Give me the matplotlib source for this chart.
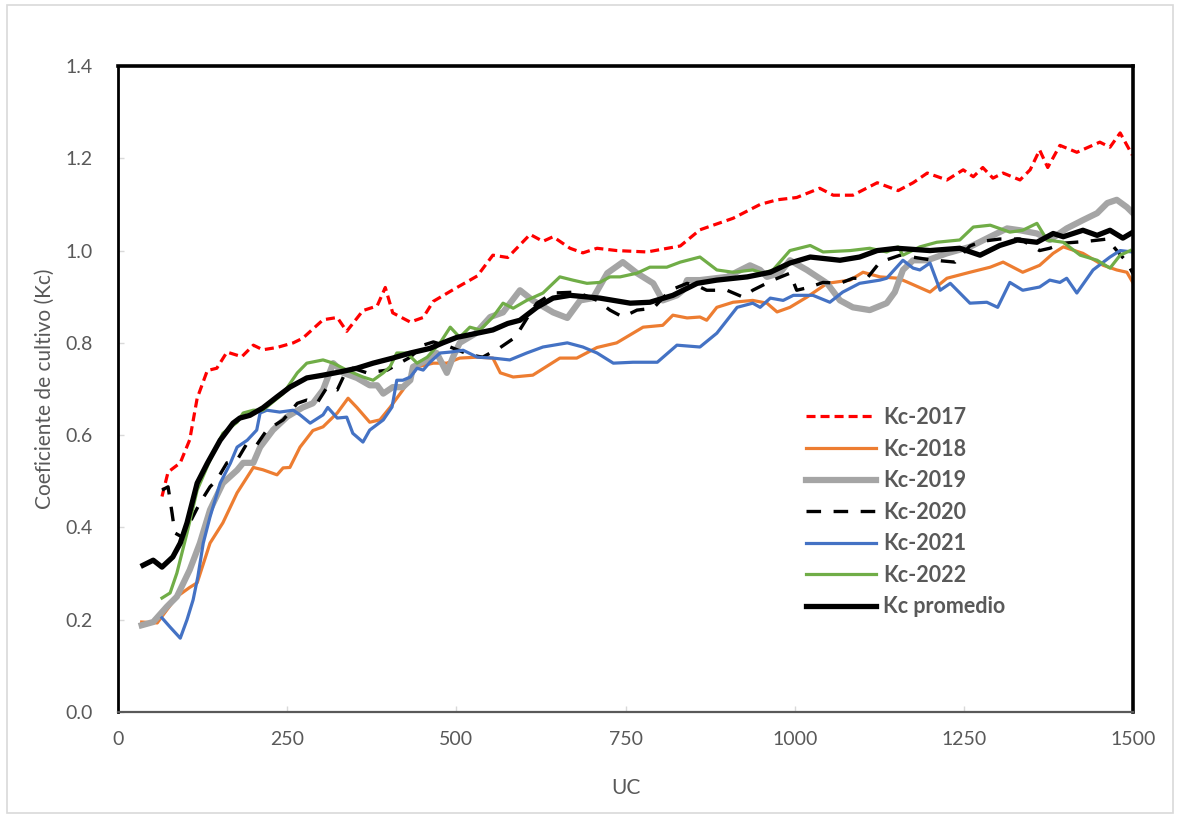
import matplotlib
matplotlib.use("Agg")
import matplotlib.pyplot as plt
from matplotlib.patches import Rectangle

#-------------------------------------
# Data (UC vs Kc)
uc_2017 = [65, 74, 92, 106, 117, 132, 146, 161, 183, 200, 214, 235, 259, 273, 303, 324, 338, 362, 383, 395,
           406, 432, 451, 466, 495, 531, 554, 576, 609, 628, 643, 668, 687, 708, 737, 782, 831, 860, 909, 949,
           974, 1003, 1037, 1057, 1086, 1122, 1153, 1175, 1196, 1225, 1249, 1264, 1278, 1293, 1308, 1333, 1348,
           1362, 1374, 1392, 1417, 1451, 1466, 1481, 1499]
kc_2017 = [0.467, 0.52, 0.54, 0.59, 0.68, 0.74, 0.745, 0.78, 0.77, 0.795, 0.785, 0.79, 0.80, 0.81, 0.85, 0.855,
           0.825, 0.87, 0.88, 0.92, 0.865, 0.845, 0.855, 0.89, 0.915, 0.945, 0.99, 0.985, 1.035, 1.02, 1.03,
           1.005, 0.995, 1.005, 1.0, 0.997, 1.01, 1.045, 1.07, 1.10, 1.11, 1.115, 1.135, 1.12, 1.12, 1.147,
           1.13, 1.147, 1.168, 1.153, 1.175, 1.16, 1.18, 1.157, 1.168, 1.153, 1.175, 1.218, 1.18, 1.228, 1.213,
           1.235, 1.224, 1.255, 1.207]

uc_2018 = [35, 58, 69, 87, 106, 117, 136, 155, 176, 200, 214, 235, 244, 254, 269, 288, 303, 324, 340, 353,
           372, 387, 402, 421, 442, 466, 486, 505, 531, 554, 565, 584, 613, 653, 678, 708, 737, 776, 805, 820,
           841, 860, 870, 885, 909, 938, 959, 974, 993, 1018, 1048, 1082, 1101, 1126, 1153, 1166, 1200, 1225,
           1259, 1289, 1308, 1337, 1362, 1382, 1397, 1426, 1456, 1476, 1491, 1500]
kc_2018 = [0.195, 0.193, 0.215, 0.25, 0.27, 0.28, 0.366, 0.41, 0.475, 0.53, 0.525, 0.514, 0.529, 0.53, 0.574,
           0.61, 0.618, 0.648, 0.68, 0.66, 0.628, 0.633, 0.66, 0.698, 0.748, 0.756, 0.756, 0.767, 0.769, 0.767,
           0.735, 0.726, 0.73, 0.767, 0.767, 0.79, 0.80, 0.834, 0.838, 0.86, 0.854, 0.856, 0.849, 0.877, 0.888,
           0.892, 0.886, 0.867, 0.877, 0.899, 0.929, 0.936, 0.953, 0.943, 0.94, 0.932, 0.91, 0.94, 0.953,
           0.964, 0.975, 0.953, 0.968, 0.994, 1.008, 0.994, 0.968, 0.958, 0.953, 0.93]

uc_2019 = [35, 52, 72, 87, 106, 121, 136, 155, 176, 185, 200, 210, 229, 250, 273, 288, 303, 318, 333, 353,
           372, 383, 392, 406, 421, 432, 436, 457, 471, 486, 495, 505, 528, 550, 569, 594, 613, 643, 664, 683,
           702, 723, 746, 767, 791, 805, 826, 835, 841, 860, 900, 934, 949, 959, 978, 993, 1018, 1048, 1067,
           1086, 1111, 1136, 1148, 1160, 1175, 1196, 1225, 1259, 1289, 1314, 1333, 1358, 1377, 1402, 1426,
           1447, 1462, 1476, 1491, 1500]
kc_2019 = [0.188, 0.195, 0.228, 0.25, 0.308, 0.366, 0.438, 0.496, 0.524, 0.54, 0.54, 0.574, 0.611, 0.64, 0.66,
           0.669, 0.698, 0.756, 0.735, 0.724, 0.708, 0.708, 0.69, 0.704, 0.704, 0.719, 0.748, 0.763, 0.778,
           0.735, 0.769, 0.80, 0.82, 0.856, 0.866, 0.914, 0.892, 0.866, 0.854, 0.892, 0.897, 0.951, 0.975,
           0.951, 0.929, 0.892, 0.903, 0.914, 0.936, 0.936, 0.943, 0.968, 0.958, 0.943, 0.951, 0.979, 0.958,
           0.929, 0.892, 0.877, 0.871, 0.886, 0.91, 0.958, 0.979, 0.979, 0.994, 1.008, 1.03, 1.048, 1.044,
           1.037, 1.023, 1.048, 1.066, 1.081, 1.103, 1.11, 1.094, 1.081]

uc_2020 = [65, 74, 80, 84, 95, 106, 121, 136, 146, 161, 176, 191, 205, 220, 244, 265, 279, 294, 309, 324,
           333, 347, 368, 398, 432, 451, 466, 491, 520, 539, 565, 587, 609, 619, 643, 678, 708, 727, 746, 767,
           791, 816, 841, 860, 870, 900, 924, 938, 968, 993, 1003, 1023, 1042, 1067, 1086, 1107, 1126, 1156,
           1200, 1237, 1259, 1277, 1303, 1333, 1362, 1377, 1397, 1432, 1462, 1476, 1491, 1500]
kc_2020 = [0.481, 0.488, 0.43, 0.388, 0.379, 0.41, 0.453, 0.488, 0.503, 0.54, 0.546, 0.583, 0.579, 0.611,
           0.633, 0.669, 0.676, 0.669, 0.704, 0.698, 0.726, 0.745, 0.735, 0.741, 0.769, 0.795, 0.802, 0.791,
           0.774, 0.769, 0.79, 0.812, 0.864, 0.886, 0.908, 0.91, 0.892, 0.871, 0.856, 0.871, 0.875, 0.914,
           0.929, 0.921, 0.914, 0.914, 0.899, 0.914, 0.936, 0.951, 0.914, 0.921, 0.931, 0.929, 0.94, 0.94,
           0.975, 0.99, 0.98, 0.975, 1.01, 1.02, 1.025, 1.025, 1.0, 1.005, 1.016, 1.02, 1.025, 1.0, 0.975, 0.95]

uc_2021 = [65, 77, 92, 102, 111, 118, 126, 136, 151, 166, 176, 191, 205, 210, 220, 239, 259, 269, 284, 303,
           310, 324, 338, 347, 362, 372, 392, 405, 412, 421, 432, 442, 451, 461, 476, 491, 510, 531, 554, 579,
           604, 628, 664, 687, 708, 732, 761, 797, 826, 860, 885, 915, 938, 949, 964, 983, 998, 1027, 1052,
           1071, 1096, 1126, 1136, 1160, 1175, 1185, 1200, 1215, 1230, 1259, 1284, 1300, 1318, 1337, 1362,
           1377, 1392, 1402, 1417, 1441, 1466, 1481, 1499]
kc_2021 = [0.204, 0.184, 0.16, 0.2, 0.243, 0.293, 0.366, 0.423, 0.496, 0.539, 0.574, 0.589, 0.611, 0.648,
           0.654, 0.65, 0.654, 0.644, 0.626, 0.644, 0.66, 0.637, 0.639, 0.604, 0.585, 0.611, 0.633, 0.661,
           0.719, 0.719, 0.726, 0.745, 0.741, 0.758, 0.778, 0.78, 0.784, 0.769, 0.767, 0.763, 0.778, 0.791,
           0.80, 0.791, 0.778, 0.756, 0.758, 0.758, 0.795, 0.791, 0.821, 0.877, 0.886, 0.877, 0.897, 0.892,
           0.903, 0.903, 0.888, 0.91, 0.929, 0.936, 0.94, 0.979, 0.962, 0.958, 0.973, 0.914, 0.929, 0.886,
           0.888, 0.877, 0.931, 0.914, 0.921, 0.936, 0.931, 0.94, 0.908, 0.958, 0.986, 1.0, 0.997]

uc_2022 = [65, 77, 87, 102, 117, 136, 155, 176, 185, 200, 214, 244, 265, 279, 303, 318, 338, 362, 377, 392,
           402, 412, 427, 442, 457, 476, 491, 505, 520, 535, 554, 569, 584, 604, 628, 653, 672, 693, 712, 727,
           742, 767, 786, 811, 831, 860, 885, 909, 938, 953, 968, 993, 1023, 1042, 1082, 1111, 1136, 1153,
           1160, 1185, 1210, 1244, 1264, 1289, 1318, 1337, 1358, 1373, 1397, 1422, 1447, 1466, 1481, 1496]
kc_2022 = [0.247, 0.258, 0.301, 0.388, 0.481, 0.546, 0.604, 0.628, 0.648, 0.654, 0.654, 0.69, 0.735, 0.756,
           0.763, 0.756, 0.741, 0.726, 0.719, 0.735, 0.748, 0.778, 0.778, 0.756, 0.769, 0.80, 0.834, 0.812,
           0.834, 0.828, 0.856, 0.886, 0.875, 0.892, 0.908, 0.943, 0.936, 0.929, 0.931, 0.943, 0.943, 0.951,
           0.964, 0.964, 0.975, 0.986, 0.958, 0.953, 0.958, 0.951, 0.958, 1.0, 1.011, 0.997, 1.0, 1.005,
           0.997, 1.008, 0.99, 1.008, 1.018, 1.023, 1.051, 1.055, 1.04, 1.044, 1.059, 1.023, 1.018, 0.99,
           0.979, 0.962, 0.99, 1.0]

uc_prom = [37, 52, 65, 81, 92, 102, 117, 132, 151, 170, 180, 195, 214, 235, 254, 279, 303, 328, 353, 377,
           406, 432, 461, 480, 501, 531, 554, 576, 594, 619, 643, 668, 712, 757, 786, 820, 856, 885, 930, 964,
           993, 1023, 1067, 1096, 1122, 1151, 1200, 1244, 1274, 1303, 1329, 1358, 1382, 1397, 1426, 1447,
           1466, 1485, 1500]
kc_prom = [0.318, 0.329, 0.314, 0.336, 0.366, 0.41, 0.496, 0.539, 0.589, 0.626, 0.637, 0.643, 0.659, 0.683,
           0.704, 0.724, 0.73, 0.737, 0.745, 0.756, 0.767, 0.778, 0.788, 0.80, 0.812, 0.821, 0.828, 0.842,
           0.849, 0.877, 0.897, 0.903, 0.897, 0.886, 0.888, 0.903, 0.929, 0.936, 0.943, 0.953, 0.973, 0.986,
           0.979, 0.986, 1.0, 1.005, 1.0, 1.005, 0.99, 1.011, 1.023, 1.018, 1.037, 1.03, 1.044, 1.033, 1.044,
           1.027, 1.04]

x_ticks = [0, 250, 500, 750, 1000, 1250, 1500]
y_ticks = [0.0, 0.2, 0.4, 0.6, 0.8, 1.0, 1.2, 1.4]
#-------------------------------------

plt.rcParams['font.family'] = ['Lato', 'DejaVu Sans']
plt.rcParams['lines.scale_dashes'] = False
txt = '#595959'

fig = plt.figure(figsize=(11.77, 8.16), dpi=100)
ax = fig.add_axes([118/1177, 1 - 712/816, (1133 - 118)/1177, (712 - 66)/816])

# light border around the whole chart area
fig.patches.append(Rectangle((7/1177, 3/816), 1166/1177, 808/816, transform=fig.transFigure,
                             fill=False, edgecolor='#d9d9d9', linewidth=1.2))

ax.plot(uc_2017, kc_2017, color='#ff0000', lw=2.3, dashes=(6.5, 3.6), label='Kc-2017')
ax.plot(uc_2018, kc_2018, color='#ed7d31', lw=2.3, label='Kc-2018')
ax.plot(uc_2019, kc_2019, color='#a5a5a5', lw=4.5, label='Kc-2019')
ax.plot(uc_2020, kc_2020, color='black', lw=2.4, dashes=(10.5, 9.0), label='Kc-2020')
ax.plot(uc_2021, kc_2021, color='#4472c4', lw=2.3, label='Kc-2021')
ax.plot(uc_2022, kc_2022, color='#70ad47', lw=2.3, label='Kc-2022')
ax.plot(uc_prom, kc_prom, color='black', lw=3.8, label='Kc promedio')

ax.set_xlim(0, 1500)
ax.set_ylim(0, 1.4)
ax.set_xticks(x_ticks)
ax.set_yticks(y_ticks)
ax.set_yticklabels([f'{v:.1f}' for v in y_ticks])
ax.tick_params(direction='in', length=4, width=1, color='#d9d9d9', labelcolor=txt, labelsize=14)
ax.tick_params(axis='x', pad=14)
ax.tick_params(axis='y', pad=18)

for side in ['top', 'right']:
    ax.spines[side].set_linewidth(2.6)
    ax.spines[side].set_color('black')
ax.spines['left'].set_linewidth(2.0)
ax.spines['left'].set_color('black')
ax.spines['bottom'].set_linewidth(1.6)
ax.spines['bottom'].set_color('#595959')

ax.set_xlabel('UC', fontsize=15, color=txt, labelpad=21)
ax.set_ylabel('Coeficiente de cultivo (Kc)', fontsize=15, color=txt, labelpad=8)

leg = ax.legend(loc='upper left', bbox_to_anchor=(806/1177, 1 - 407/816), bbox_transform=fig.transFigure,
                frameon=False, fontsize=15.5, handlelength=3.25, handletextpad=0.35, labelspacing=0.49,
                borderpad=0, borderaxespad=0)
for t in leg.get_texts():
    t.set_color(txt)
    t.set_fontweight('bold')

fig.savefig('out.png', dpi=100)
